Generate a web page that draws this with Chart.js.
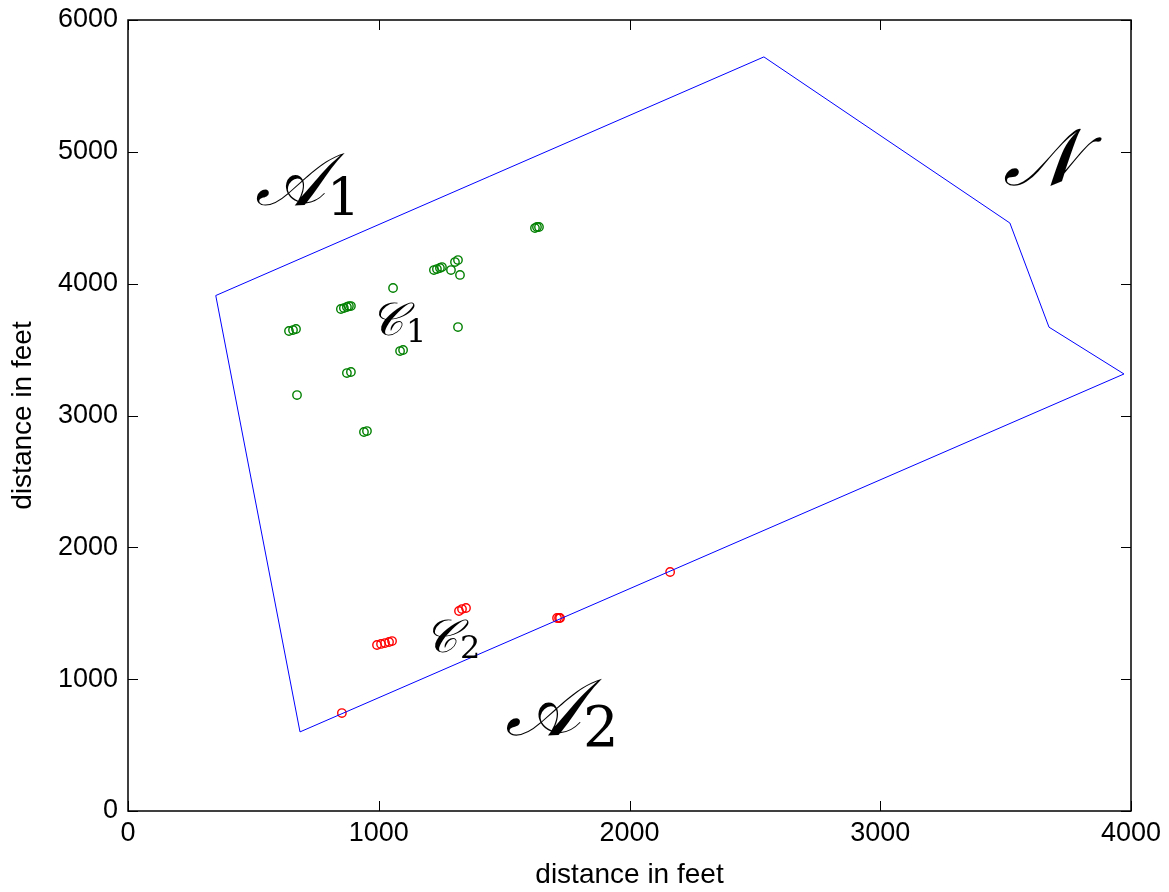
<!DOCTYPE html>
<html>
<head>
<meta charset="utf-8">
<script src="https://cdn.jsdelivr.net/npm/chart.js@4.4.0/dist/chart.umd.min.js"></script>
<style>
  html, body { margin: 0; padding: 0; background: #fff; }
  #wrap { width: 1169px; height: 892px; }
</style>
</head>
<body>
<div id="wrap"><canvas id="mapChart"></canvas></div>
<script>
// boundary polygon (feet), closed back on the first corner
const boundaryX = [350, 2536, 3517, 3673, 3972, 686, 350];
const boundaryY = [3910, 5720, 4460, 3670, 3315, 600, 3910];

// cluster C1 (green)
const c1X = [642, 658, 670, 849, 861, 873, 881, 889, 1057, 1316, 1085, 1097, 873, 889, 674, 941, 953,
             1220, 1232, 1244, 1252, 1304, 1316, 1288, 1324, 1623, 1631, 1639];
const c1Y = [3641, 3648, 3656, 3808, 3815, 3823, 3830, 3830, 3967, 3671, 3489, 3497, 3322, 3330, 3155, 2875, 2882,
             4103, 4111, 4119, 4126, 4164, 4179, 4103, 4066, 4422, 4430, 4430];

// cluster C2 (red)
const c2X = [993, 1009, 1025, 1041, 1053, 1320, 1332, 1348, 1711, 1719, 1723, 2162, 853];
const c2Y = [1259, 1267, 1274, 1282, 1289, 1517, 1532, 1540, 1464, 1464, 1464, 1813, 743];

const xTicks = [0, 1000, 2000, 3000, 4000];
const yTicks = [0, 1000, 2000, 3000, 4000, 5000, 6000];

// region / cluster names: letter, subscript, anchor in feet
const labelMain = ['𝒜', '𝒩', '𝒞', '𝒞', '𝒜'];
const labelSub = ['1', '', '1', '2', '2'];
const labelAtX = [506, 3490, 965, 1180, 1503];
const labelAtY = [4597, 4748, 3610, 1206, 576];
const labelSize = [74, 80, 46, 46, 80];

const toPoints = (xs, ys) => xs.map((x, i) => ({ x: x, y: ys[i] }));

const tickFont = { family: 'Liberation Sans', size: 27 };

// frame with inward ticks on all four sides, plus the script labels
const framePlugin = {
    id: 'frame',
    afterDraw(chart) {
        const ctx = chart.ctx;
        const a = chart.chartArea;
        const sx = chart.scales.x, sy = chart.scales.y;
        ctx.save();
        ctx.strokeStyle = '#000';
        ctx.lineWidth = 1.5;
        ctx.strokeRect(a.left, a.top, a.right - a.left, a.bottom - a.top);
        ctx.lineWidth = 1;
        ctx.beginPath();
        xTicks.forEach(v => {
            const px = Math.round(sx.getPixelForValue(v)) + 0.5;
            ctx.moveTo(px, a.bottom); ctx.lineTo(px, a.bottom - 10);
            ctx.moveTo(px, a.top); ctx.lineTo(px, a.top + 10);
        });
        yTicks.forEach(v => {
            const py = Math.round(sy.getPixelForValue(v)) + 0.5;
            ctx.moveTo(a.left, py); ctx.lineTo(a.left + 10, py);
            ctx.moveTo(a.right, py); ctx.lineTo(a.right - 10, py);
        });
        ctx.stroke();

        ctx.fillStyle = '#000';
        ctx.textBaseline = 'alphabetic';
        ctx.textAlign = 'left';
        labelMain.forEach((m, i) => {
            const px = sx.getPixelForValue(labelAtX[i]);
            const py = sy.getPixelForValue(labelAtY[i]);
            const size = labelSize[i];
            ctx.font = 'italic ' + size + 'px "DejaVu Serif", serif';
            ctx.fillText(m, px, py);
            if (labelSub[i]) {
                const w = ctx.measureText(m).width;
                ctx.font = Math.round(size * 0.7) + 'px "DejaVu Serif", serif';
                ctx.fillText(labelSub[i], px + w + 2, py + size * 0.14);
            }
        });
        ctx.restore();
    }
};

const ctxMap = document.getElementById('mapChart').getContext('2d');

const mapChart = new Chart(ctxMap, {
    type: 'scatter',
    data: {
        datasets: [{
            label: 'boundary',
            data: toPoints(boundaryX, boundaryY),
            showLine: true,
            borderColor: 'rgb(0, 0, 255)',
            borderWidth: 1,
            pointRadius: 0,
            fill: false,
            tension: 0
        }, {
            label: 'C1',
            data: toPoints(c1X, c1Y),
            pointStyle: 'circle',
            pointRadius: 4.2,
            borderColor: 'rgb(0, 128, 0)',
            backgroundColor: 'rgba(0, 0, 0, 0)',
            borderWidth: 1.4
        }, {
            label: 'C2',
            data: toPoints(c2X, c2Y),
            pointStyle: 'circle',
            pointRadius: 4.2,
            borderColor: 'rgb(255, 0, 0)',
            backgroundColor: 'rgba(0, 0, 0, 0)',
            borderWidth: 1.4
        }]
    },
    options: {
        responsive: true,
        maintainAspectRatio: false,
        animation: false,
        layout: { padding: { top: 20, right: 38, left: 0, bottom: 0 } },
        plugins: {
            legend: { display: false },
            tooltip: { enabled: false }
        },
        scales: {
            x: {
                type: 'linear',
                min: 0,
                max: 4000,
                afterBuildTicks: s => { s.ticks = xTicks.map(v => ({ value: v })); },
                afterFit: s => { s.height = 81; s.paddingLeft = 0; s.paddingRight = 0; },
                grid: { display: false, drawTicks: false },
                border: { display: false },
                ticks: { color: '#000', font: tickFont, padding: 6, maxRotation: 0, callback: v => String(v) },
                title: {
                    display: true,
                    text: 'distance in feet',
                    color: '#000',
                    font: { family: 'Liberation Sans', size: 28 },
                    padding: { top: 0, bottom: 0 }
                }
            },
            y: {
                type: 'linear',
                min: 0,
                max: 6000,
                afterBuildTicks: s => { s.ticks = yTicks.map(v => ({ value: v })); },
                afterFit: s => { s.width = 128; s.paddingTop = 0; s.paddingBottom = 0; },
                grid: { display: false, drawTicks: false },
                border: { display: false },
                ticks: { color: '#000', font: tickFont, padding: 10, callback: v => String(v) },
                title: {
                    display: true,
                    text: 'distance in feet',
                    color: '#000',
                    font: { family: 'Liberation Sans', size: 28 },
                    padding: { top: 6, bottom: 0 }
                }
            }
        }
    },
    plugins: [framePlugin]
});
</script>
</body>
</html>
